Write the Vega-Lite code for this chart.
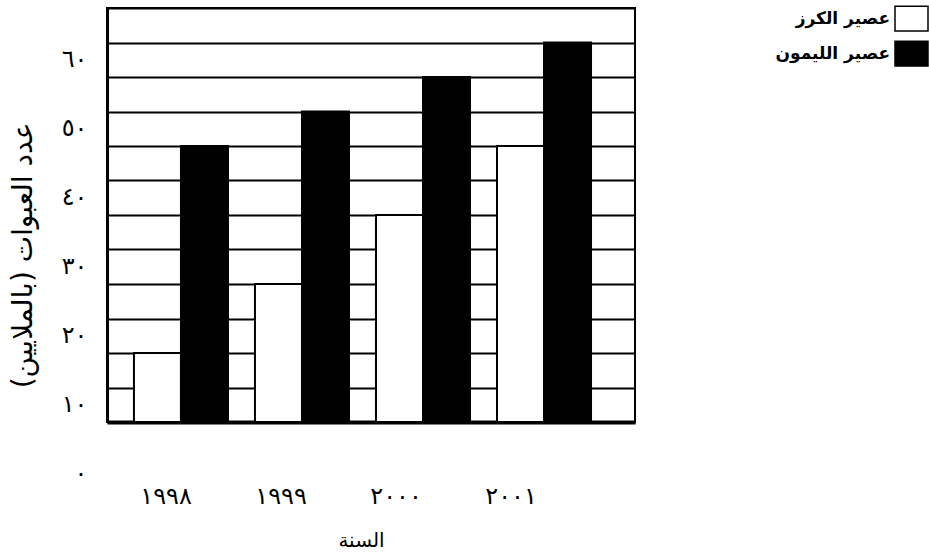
{
  "$schema": "https://vega.github.io/schema/vega-lite/v6.json",
  "width": 528,
  "height": 414,
  "autosize": {"type": "none"},
  "padding": {"left": 107, "top": 8, "right": 294, "bottom": 131},
  "background": "white",
  "config": {"font": "DejaVu Sans", "view": {"stroke": "black", "strokeWidth": 2}},
  "data": {"values": [
    {"year": "١٩٩٨", "juice": "عصير الكرز", "value": 10},
    {"year": "١٩٩٨", "juice": "عصير الليمون", "value": 40},
    {"year": "١٩٩٩", "juice": "عصير الكرز", "value": 20},
    {"year": "١٩٩٩", "juice": "عصير الليمون", "value": 45},
    {"year": "٢٠٠٠", "juice": "عصير الكرز", "value": 30},
    {"year": "٢٠٠٠", "juice": "عصير الليمون", "value": 50},
    {"year": "٢٠٠١", "juice": "عصير الكرز", "value": 40},
    {"year": "٢٠٠١", "juice": "عصير الليمون", "value": 55}
  ]},
  "encoding": {
    "y": {"field": "value", "type": "quantitative",
          "scale": {"domain": [0, 60], "nice": false},
          "axis": {
            "values": [0, 5, 10, 15, 20, 25, 30, 35, 40, 45, 50, 55, 60],
            "tickCount": 24,
            "grid": true, "gridColor": "black", "gridWidth": 2, "gridOpacity": 1,
            "domain": true, "domainColor": "black", "domainWidth": 3,
            "ticks": false, "tickSize": 0,
            "labelPadding": 20, "labelOffset": 51, "labelFontSize": 24, "labelColor": "black",
            "labelFlush": false, "labelOverlap": false,
            "labelExpr": "datum.value == 0 ? '٠' : datum.value == 10 ? '١٠' : datum.value == 20 ? '٢٠' : datum.value == 30 ? '٣٠' : datum.value == 40 ? '٤٠' : datum.value == 50 ? '٥٠' : datum.value == 60 ? '٦٠' : ''",
            "title": "عدد العبوات (بالملايين)",
            "titleFontSize": 28, "titleFontWeight": "normal", "titleColor": "black",
            "titleX": -84, "titleY": 247, "titleBaseline": "middle", "titleAlign": "center", "titleAngle": -90
          }}
  },
  "layer": [
    {
      "mark": {"type": "bar", "stroke": "black", "strokeWidth": 2},
      "encoding": {
        "x": {"field": "year", "type": "nominal", "sort": ["١٩٩٨", "١٩٩٩", "٢٠٠٠", "٢٠٠١"],
              "scale": {"paddingInner": 0.223, "paddingOuter": 0.293, "align": 0.38}, "axis": null},
        "xOffset": {"field": "juice", "type": "nominal", "sort": ["عصير الكرز", "عصير الليمون"], "scale": {"paddingInner": 0, "paddingOuter": 0}},
        "fill": {"field": "juice", "type": "nominal", "sort": ["عصير الكرز", "عصير الليمون"],
                 "scale": {"domain": ["عصير الكرز", "عصير الليمون"], "range": ["white", "black"]},
                 "legend": {
                   "orient": "none", "legendX": 787, "legendY": -7, "title": null,
                   "symbolType": "M-1,-0.75H1V0.75H-1Z", "symbolSize": 1089,
                   "symbolStrokeColor": "black", "symbolStrokeWidth": 1.5,
                   "labelAlign": "right", "labelOffset": -39, "labelFontSize": 17, "labelFontWeight": "bold",
                   "labelColor": "black", "labelLimit": 0, "rowPadding": 2
                 }}
      }
    },
    {
      "mark": {"type": "point", "opacity": 0},
      "encoding": {
        "x": {"field": "year", "type": "nominal", "sort": ["١٩٩٨", "١٩٩٩", "٢٠٠٠", "٢٠٠١"],
              "scale": {"type": "point", "padding": 0.796, "align": 0.32},
              "axis": {
                "orient": "bottom", "domain": true, "domainColor": "black", "domainWidth": 4,
                "ticks": false, "tickSize": 0, "grid": false,
                "labelPadding": 74, "labelBaseline": "middle", "labelFontSize": 24, "labelColor": "black", "labelAngle": 0,
                "title": "السنة", "titleFontSize": 20, "titleFontWeight": "normal", "titleColor": "black",
                "titleX": 254, "titleY": 118, "titleBaseline": "middle", "titleAlign": "center"
              }}
      }
    }
  ],
  "resolve": {"scale": {"x": "independent"}, "axis": {"x": "independent"}}
}
